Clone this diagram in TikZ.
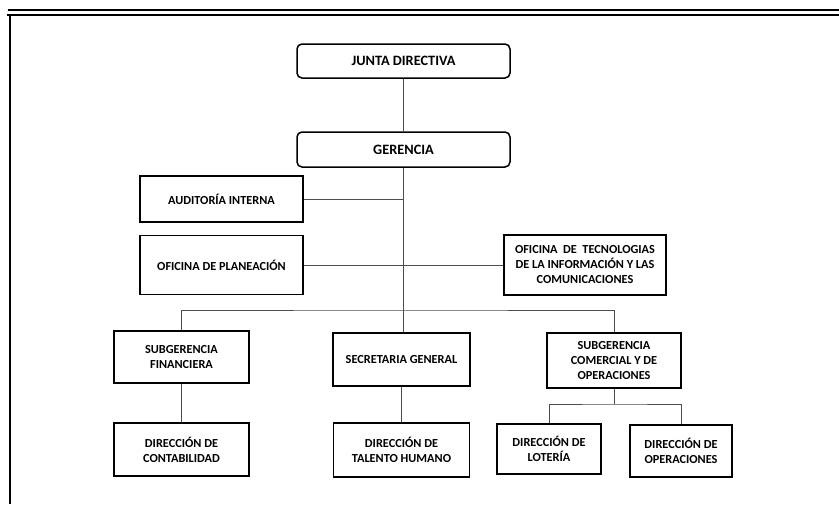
\documentclass[tikz,border=0pt]{standalone}
\usepackage{fontspec}
\setmainfont{Carlito}
\tikzstyle{block} = [rectangle, draw, line width=1.5pt, align=center, inner sep=2pt, font=\bfseries\fontsize{12.3}{15}\selectfont]
\tikzstyle{rblock} = [block, rounded corners=5pt, font=\bfseries\fontsize{14.3}{17}\selectfont]
\tikzstyle{link} = [draw=black!70, line width=0.8pt]
\tikzstyle{frame} = [line width=2.5pt]

\begin{document}
\begin{tikzpicture}[x=1pt,y=-1pt]
\useasboundingbox (0,0) rectangle (839,504);
% page frame
\draw [frame] (8,10) -- (839,10);
\draw [frame] (7,15) -- (839,15);
\draw [frame] (10,14) -- (10,504);

\node (junta) [rblock, minimum width=213pt, minimum height=34pt] at (403.5,61) {JUNTA DIRECTIVA};
\node (gerencia) [rblock, minimum width=213pt, minimum height=35pt] at (403.5,149.5) {GERENCIA};
\node (auditoria) [block, minimum width=163pt, minimum height=46pt] at (221.5,199) {AUDITORÍA INTERNA};
\node (planeacion) [block, minimum width=163pt, minimum height=59pt] at (221.5,265) {OFICINA DE PLANEACIÓN};
\node (tic) [block, minimum width=162pt, minimum height=60pt] at (585,265) {OFICINA\ \ DE\ \ TECNOLOGIAS\\DE LA INFORMACIÓN Y LAS\\COMUNICACIONES};
\node (financiera) [block, minimum width=135pt, minimum height=52pt] at (181.5,357) {SUBGERENCIA\\FINANCIERA};
\node (secretaria) [block, minimum width=137pt, minimum height=53pt] at (401.5,359.5) {SECRETARIA GENERAL};
\node (comercial) [block, minimum width=134pt, minimum height=55pt] at (614,360.5) {SUBGERENCIA\\COMERCIAL Y DE\\OPERACIONES};
\node (contabilidad) [block, minimum width=135pt, minimum height=53pt] at (181.5,449.5) {DIRECCIÓN DE\\CONTABILIDAD};
\node (talento) [block, minimum width=136pt, minimum height=54pt] at (401.5,450) {DIRECCIÓN DE\\TALENTO HUMANO};
\node (loteria) [block, minimum width=104pt, minimum height=50pt] at (549,449) {DIRECCIÓN DE\\LOTERÍA};
\node (operaciones) [block, minimum width=102pt, minimum height=52pt] at (681,451) {DIRECCIÓN DE\\OPERACIONES};

\coordinate (bus) at (403.5,310);
\coordinate (split) at (614,404);

\draw [link] (junta) -- (gerencia);
\draw [link] (gerencia.south) -- (gerencia.south |- secretaria.north);
\draw [link] (auditoria.east) -- (auditoria.east -| gerencia.south);
\draw [link] (planeacion.east) -- (tic.west);
\draw [link] (financiera.north) |- (bus) -| (comercial.north);
\draw [link] (financiera) -- (contabilidad);
\draw [link] (secretaria) -- (talento);
\draw [link] (comercial) -- (split);
\draw [link] (loteria.north) |- (split) -| (operaciones.north);
\end{tikzpicture}
\end{document}
